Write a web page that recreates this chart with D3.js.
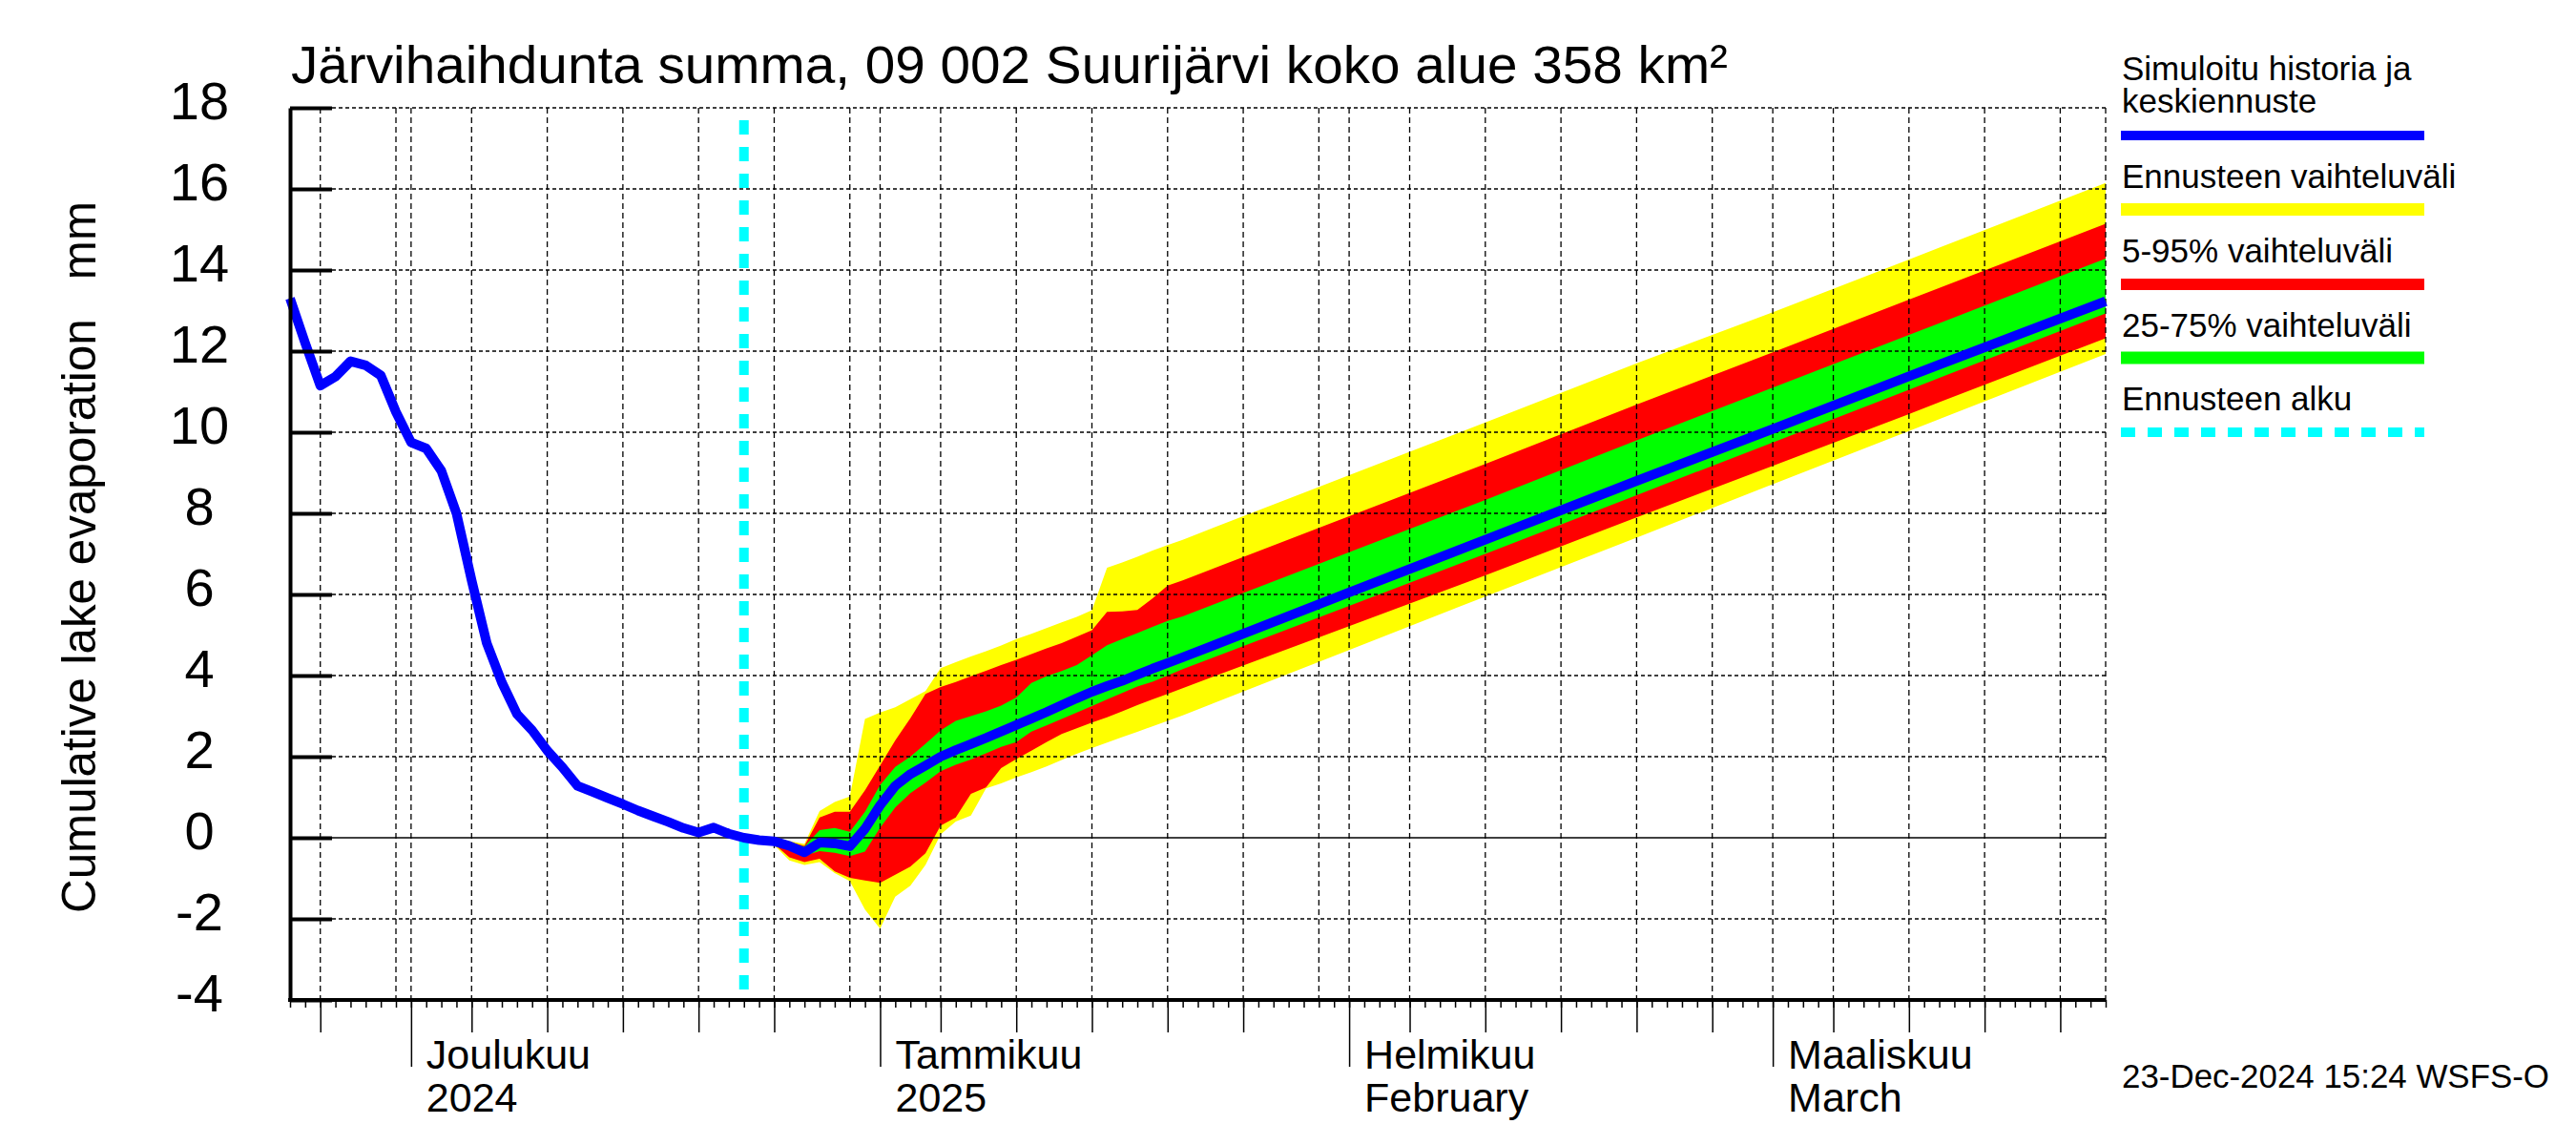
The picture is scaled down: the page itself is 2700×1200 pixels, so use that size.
<!DOCTYPE html>
<html>
<head>
<meta charset="utf-8">
<script src="https://cdn.jsdelivr.net/npm/d3@7/dist/d3.min.js"></script>
<style>
body { margin: 0; background: #fff; }
text { font-family: "Liberation Sans", Arial, Helvetica, sans-serif; fill: #000; }
</style>
</head>
<body>
<script>
// simulated history (daily)
var histDates = ["2024-11-23","2024-11-24","2024-11-25","2024-11-26","2024-11-27","2024-11-28","2024-11-29","2024-11-30",
  "2024-12-01","2024-12-02","2024-12-03","2024-12-04","2024-12-05","2024-12-06","2024-12-07","2024-12-08","2024-12-09",
  "2024-12-10","2024-12-11","2024-12-12","2024-12-13","2024-12-14","2024-12-15","2024-12-16","2024-12-17","2024-12-18",
  "2024-12-19","2024-12-20","2024-12-21","2024-12-22","2024-12-23"];
var histValues = [13.3,12.2,11.15,11.37,11.75,11.65,11.4,10.5,
  9.75,9.6,9.05,8.0,6.35,4.8,3.83,3.05,2.65,
  2.15,1.74,1.28,1.13,0.98,0.83,0.67,0.53,0.39,
  0.24,0.13,0.25,0.1,0.0];

// forecast
var fcDates = ["2024-12-23","2024-12-24","2024-12-25","2024-12-26","2024-12-27","2024-12-28","2024-12-29","2024-12-30","2024-12-31",
  "2025-01-01","2025-01-02","2025-01-03","2025-01-04","2025-01-05","2025-01-06","2025-01-07","2025-01-08","2025-01-09","2025-01-10",
  "2025-01-11","2025-01-12","2025-01-13","2025-01-14","2025-01-15","2025-01-16","2025-01-17","2025-01-18","2025-01-19","2025-01-20",
  "2025-01-21","2025-02-01","2025-02-10","2025-02-20","2025-03-01","2025-03-10","2025-03-23"];
var fcMedian = [0.0,-0.06,-0.09,-0.2,-0.36,-0.12,-0.14,-0.21,0.22,
  0.8,1.28,1.57,1.78,2.0,2.16,2.31,2.46,2.62,2.78,
  2.94,3.1,3.27,3.44,3.6,3.74,3.87,4.02,4.17,4.31,
  4.45,6.05,7.35,8.8,10.08,11.38,13.23];
var fcMax = [0.0,-0.04,0.0,-0.08,-0.15,0.66,0.88,1.02,2.93,
  3.09,3.22,3.42,3.62,4.18,4.33,4.47,4.6,4.74,4.9,
  5.03,5.17,5.31,5.45,5.61,6.66,6.79,6.93,7.08,7.22,
  7.35,8.94,10.24,11.7,12.96,14.26,16.15];
var fc95 = [0.0,-0.05,-0.04,-0.1,-0.2,0.5,0.64,0.64,1.17,
  1.78,2.4,2.95,3.55,3.72,3.84,3.98,4.12,4.26,4.39,
  4.53,4.67,4.8,4.96,5.12,5.57,5.58,5.62,5.9,6.22,
  6.35,7.93,9.22,10.68,11.97,13.27,15.14];
var fc75 = [0.0,-0.05,-0.06,-0.13,-0.22,0.19,0.24,0.15,0.64,
  1.3,1.75,2.0,2.32,2.65,2.88,3.0,3.12,3.26,3.46,
  3.82,3.98,4.11,4.26,4.5,4.75,4.9,5.05,5.2,5.35,
  5.46,7.04,8.33,9.8,11.1,12.4,14.28];
var fc25 = [0.0,-0.08,-0.12,-0.26,-0.44,-0.33,-0.37,-0.45,-0.34,
  0.25,0.75,1.1,1.36,1.64,1.8,1.93,2.08,2.24,2.36,
  2.62,2.77,2.93,3.09,3.25,3.41,3.57,3.73,3.85,4.0,
  4.16,5.72,7.0,8.45,9.75,11.05,12.93];
var fc5 = [0.0,-0.09,-0.15,-0.48,-0.6,-0.52,-0.83,-0.99,-1.05,
  -1.11,-0.91,-0.71,-0.38,0.3,0.5,1.08,1.24,1.72,1.94,
  2.15,2.36,2.56,2.7,2.84,2.97,3.12,3.27,3.41,3.55,
  3.69,5.22,6.47,7.9,9.17,10.45,12.32];
var fcMin = [0.0,-0.1,-0.18,-0.56,-0.67,-0.6,-0.87,-1.07,-1.77,
  -2.24,-1.45,-1.18,-0.67,0.08,0.4,0.55,1.22,1.34,1.49,
  1.62,1.76,1.92,2.07,2.21,2.35,2.48,2.61,2.75,2.88,
  3.02,4.63,5.95,7.4,8.72,10.03,11.93];

var yTicks = [-4,-2,0,2,4,6,8,10,12,14,16,18];
var monthDates = ["2024-12-01","2025-01-01","2025-02-01","2025-03-01"];
var monthNames = ["Joulukuu","Tammikuu","Helmikuu","Maaliskuu"];
var monthSubs = ["2024","2025","February","March"];
var legendNames = ["Simuloitu historia ja|keskiennuste","Ennusteen vaihteluväli","5-95% vaihteluväli","25-75% vaihteluväli","Ennusteen alku"];
var legendColors = ["#0000ff","#ffff00","#ff0000","#00ff00","#00ffff"];

var parse = d3.utcParse("%Y-%m-%d");
var startDate = parse("2024-11-23"), endDate = parse("2025-03-23"), fcStart = parse("2024-12-23");

var W = 2700, H = 1200;
var plotL = 304, plotR = 2207, plotT = 113, plotB = 1048;

var svg = d3.select("body").append("svg")
    .attr("width", W)
    .attr("height", H)
    .style("display", "block");
svg.append("rect").attr("width", W).attr("height", H).attr("fill", "#fff");

var x = d3.scaleUtc().domain([startDate, endDate]).range([plotL, plotR]);
var y = d3.scaleLinear().domain([-4, 18]).range([plotB, plotT]);

var fc = fcDates.map(function(d, i) {
    return {date: parse(d), med: fcMedian[i], mn: fcMin[i], mx: fcMax[i],
            p5: fc5[i], p95: fc95[i], p25: fc25[i], p75: fc75[i]};
});

// bands
function band(lo, hi) {
    return d3.area()
        .x(function(d) { return x(d.date); })
        .y0(function(d) { return y(d[lo]); })
        .y1(function(d) { return y(d[hi]); });
}
svg.append("path").datum(fc).attr("d", band("mn", "mx")).attr("fill", "#ffff00");
svg.append("path").datum(fc).attr("d", band("p5", "p95")).attr("fill", "#ff0000");
svg.append("path").datum(fc).attr("d", band("p25", "p75")).attr("fill", "#00ff00");

// grid
var grid = svg.append("g");
grid.selectAll(".hg")
    .data(yTicks.filter(function(t) { return t != 0 && t != -4; }))
    .enter().append("line")
    .attr("x1", plotL + 44).attr("x2", plotR)
    .attr("y1", function(t) { return y(t); }).attr("y2", function(t) { return y(t); })
    .attr("stroke", "#000").attr("stroke-width", 1.3).attr("stroke-dasharray", "4,3");

var days = d3.utcDay.range(startDate, d3.utcDay.offset(endDate, 1));
var gridDays = days.filter(function(d) { return [1,5,10,15,20,25,30].indexOf(d.getUTCDate()) >= 0; });
gridDays.push(endDate);
grid.selectAll(".vg")
    .data(gridDays)
    .enter().append("line")
    .attr("x1", function(d) { return x(d); }).attr("x2", function(d) { return x(d); })
    .attr("y1", plotT).attr("y2", plotB)
    .attr("stroke", "#000").attr("stroke-width", 1.3).attr("stroke-dasharray", "6,4");

grid.append("line")
    .attr("x1", plotL + 44).attr("x2", plotR)
    .attr("y1", y(0)).attr("y2", y(0))
    .attr("stroke", "#000").attr("stroke-width", 1.6);

// forecast start
svg.append("line")
    .attr("x1", x(fcStart)).attr("x2", x(fcStart))
    .attr("y1", plotT).attr("y2", plotB)
    .attr("stroke", "#00ffff").attr("stroke-width", 10)
    .attr("stroke-dasharray", "15,13").attr("stroke-dashoffset", 15);

// blue line: history + median forecast
var blue = histDates.map(function(d, i) { return {date: parse(d), v: histValues[i]}; })
    .concat(fc.slice(1).map(function(d) { return {date: d.date, v: d.med}; }));
svg.append("path").datum(blue)
    .attr("d", d3.line().x(function(d) { return x(d.date); }).y(function(d) { return y(d.v); }))
    .attr("fill", "none").attr("stroke", "#0000ff").attr("stroke-width", 10)
    .attr("stroke-linejoin", "round");

// y axis
var yAxis = svg.append("g")
    .attr("transform", "translate(" + plotL + ",0)")
    .call(d3.axisLeft(y).tickValues(yTicks)
        .tickFormat(function(d) { return String(d); })
        .tickSizeInner(-44).tickSizeOuter(0).tickPadding(0));
yAxis.select(".domain").attr("stroke-width", 4);
yAxis.selectAll(".tick line").attr("stroke-width", 4);
yAxis.selectAll(".tick text")
    .attr("x", 209 - plotL).attr("dy", "0.2em")
    .attr("text-anchor", "middle")
    .style("font-size", "56px")
    .style("font-family", "\"Liberation Sans\", Arial, Helvetica, sans-serif");

// x axis ticks
function xTicks(vals, size) {
    var g = svg.append("g")
        .attr("transform", "translate(0," + plotB + ")")
        .call(d3.axisBottom(x).tickValues(vals).tickSize(size).tickFormat(""));
    g.select(".domain").remove();
    g.selectAll(".tick line").attr("stroke-width", 1.5);
}
xTicks(days, 8);
xTicks(days.filter(function(d) { return [5,10,15,20,25].indexOf(d.getUTCDate()) >= 0; }), 34);
xTicks(days.filter(function(d) { return d.getUTCDate() == 1; }), 70);

svg.append("line")
    .attr("x1", plotL - 2).attr("x2", plotR)
    .attr("y1", plotB).attr("y2", plotB)
    .attr("stroke", "#000").attr("stroke-width", 4);

var months = svg.append("g");
monthDates.forEach(function(m, i) {
    var mx = x(parse(m)) + 16;
    months.append("text").attr("x", mx).attr("y", 1120)
        .style("font-size", "43px").text(monthNames[i]);
    months.append("text").attr("x", mx).attr("y", 1165)
        .style("font-size", "43px").text(monthSubs[i]);
});

// title and axis label
svg.append("text").attr("x", 305).attr("y", 87)
    .style("font-size", "56px")
    .attr("textLength", 1506).attr("lengthAdjust", "spacingAndGlyphs")
    .text("Järvihaihdunta summa, 09 002 Suurijärvi koko alue 358 km²");

svg.append("text")
    .attr("transform", "translate(100,584) rotate(-90)")
    .attr("text-anchor", "middle")
    .style("font-size", "50px")
    .style("white-space", "pre")
    .attr("textLength", 746).attr("lengthAdjust", "spacingAndGlyphs")
    .text("Cumulative lake evaporation   mm");

// legend
var lg = svg.append("g");
var legendText = [[84, 118], [197], [275], [353], [430]];
var legendLineY = [142, 219.5, 298, 375, 453];
var legendWidth = [10, 13, 12, 13, 10];
legendNames.forEach(function(name, i) {
    name.split("|").forEach(function(part, j) {
        lg.append("text").attr("x", 2224).attr("y", legendText[i][j])
            .style("font-size", "35px").text(part);
    });
    var ln = lg.append("line")
        .attr("x1", 2223).attr("x2", 2541)
        .attr("y1", legendLineY[i]).attr("y2", legendLineY[i])
        .attr("stroke", legendColors[i]).attr("stroke-width", legendWidth[i]);
    if (i == 4) ln.attr("stroke-dasharray", "15,13");
});

svg.append("text").attr("x", 2224).attr("y", 1140)
    .style("font-size", "35px")
    .attr("textLength", 448).attr("lengthAdjust", "spacingAndGlyphs")
    .text("23-Dec-2024 15:24 WSFS-O");
</script>
</body>
</html>
